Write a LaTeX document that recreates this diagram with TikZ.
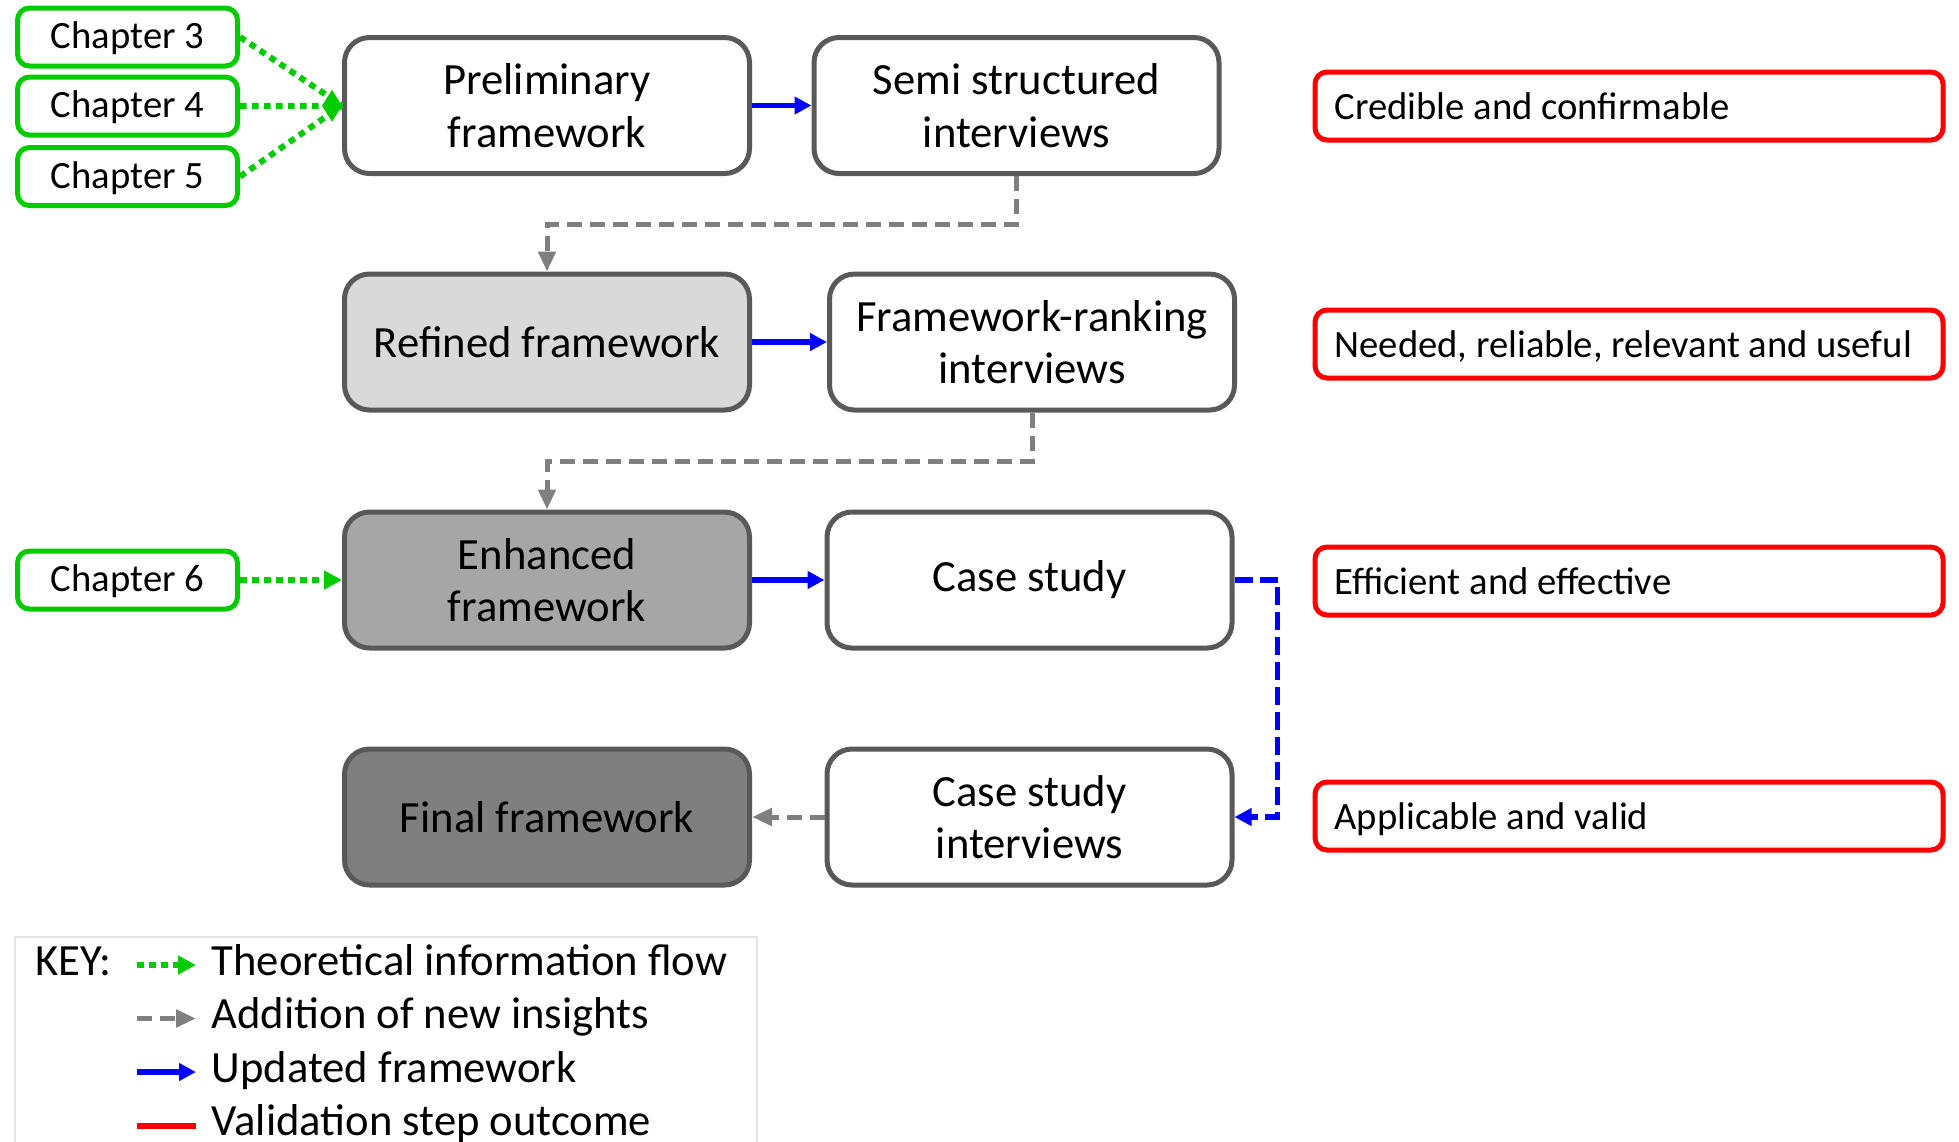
\documentclass[tikz,border=0pt]{standalone}
\usepackage{fontspec}
\setmainfont{Carlito}
\usepackage{xcolor}
\usepackage{tikz}
\usetikzlibrary{arrows.meta,positioning}
\definecolor{edge}{HTML}{595959}
\definecolor{fillA}{HTML}{D9D9D9}
\definecolor{fillB}{HTML}{A6A6A6}
\definecolor{fillC}{HTML}{7F7F7F}
\definecolor{chgreen}{HTML}{00CC00}
\definecolor{keyedge}{HTML}{E3E3E3}
\tikzset{
  box/.style={draw=edge,line width=0.5mm,rounded corners=2.5mm,align=center,minimum width=40.5mm,minimum height=13.6mm,inner sep=2pt,font=\fontsize{12.7}{14.9}\selectfont},
  chap/.style={draw=chgreen,line width=0.5mm,rounded corners=1.2mm,minimum width=22mm,minimum height=5.8mm,inner sep=1pt,text height=0.66em,text depth=0pt,font=\fontsize{11}{13}\selectfont},
  outc/.style={draw=red,line width=0.5mm,rounded corners=1.2mm,anchor=west,inner xsep=1.95mm,minimum height=6.8mm,text height=0.76em,text depth=0pt,font=\fontsize{11}{13}\selectfont},
  keytxt/.style={anchor=west,inner xsep=0pt,inner ysep=0pt,text height=1.2ex,text depth=0pt,font=\fontsize{12.7}{14.9}\selectfont},
  theo/.style={chgreen,line width=0.6mm,dash pattern=on 0.65mm off 0.55mm,-{Triangle[length=1.8mm,width=1.8mm]}},
  ins/.style={fillC,line width=0.5mm,dash pattern=on 1.5mm off 0.8mm,-{Triangle[length=2mm,width=1.7mm]}},
  upd/.style={blue,line width=0.55mm,-{Triangle[length=1.7mm,width=1.7mm]}},
  updd/.style={upd,dash pattern=on 1.8mm off 0.7mm},
  val/.style={red,line width=0.6mm},
}
\begin{document}
\begin{tikzpicture}[x=0.1mm,y=-0.1mm]
\useasboundingbox (0,0) rectangle (1959,1141);
\node[box] (prelim) at (547,105.5) {Preliminary\\framework};
\node[box] (semi) at (1016.5,105.5) {Semi structured\\interviews};
\node[box,fill=fillA] (refined) at (547,342) {Refined framework};
\node[box] (rank) at (1032,342) {Framework-ranking\\interviews};
\node[box,fill=fillB] (enh) at (547,580) {Enhanced\\framework};
\node[box] (case) at (1029.5,580) {Case study};
\node[box,fill=fillC] (final) at (547,817) {Final framework};
\node[box] (caseint) at (1029.5,817) {Case study\\interviews};
\foreach \n/\y in {3/37,4/106,5/176.5,6/580} \node[chap] (ch\n) at (127.5,\y) {Chapter \n};
\foreach \i/\y/\t in {1/106/Credible and confirmable,2/344/{Needed, reliable, relevant and useful},3/581/Efficient and effective,4/816/Applicable and valid}
  \node[outc] (out\i) at (1312.5,\y) {\makebox[58.9mm][l]{\t}};
\draw[theo,-] (ch3.east) -- (prelim.west);
\draw[theo,-] (ch5.east) -- (prelim.west);
\draw[theo,-{Diamond[length=2mm,width=3.2mm]}] (ch4) -- (prelim);
\draw[theo] (ch6) -- (enh);
\draw[upd] (prelim) -- (semi);
\draw[upd] (refined) -- (rank);
\draw[upd] (enh) -- (case);
\draw[ins] (semi.south) -- ++(0,48) -| (refined.north);
\draw[ins] (rank.south) -- ++(0,49) -| (enh.north);
\draw[updd] (case.east) -- ++(43,0) |- (caseint.east);
\draw[ins] (caseint) -- (final);
\draw[keyedge,line width=0.2mm] (15,1160) |- (757,937) -- (757,1160);
\node[keytxt] (key) at (35,965) {KEY:};
\foreach \i/\y/\s/\t in {1/965/theo/Theoretical information flow,2/1018.5/ins/Addition of new insights,3/1072/upd/Updated framework,4/1125.5/val/Validation step outcome} {
  \node[keytxt] (k\i) at (211,\y) {\t};
  \coordinate (ka\i) at (137,\y);
  \draw[\s,shorten >=1.5mm] (ka\i) -- (k\i.west);
}
\end{tikzpicture}
\end{document}
